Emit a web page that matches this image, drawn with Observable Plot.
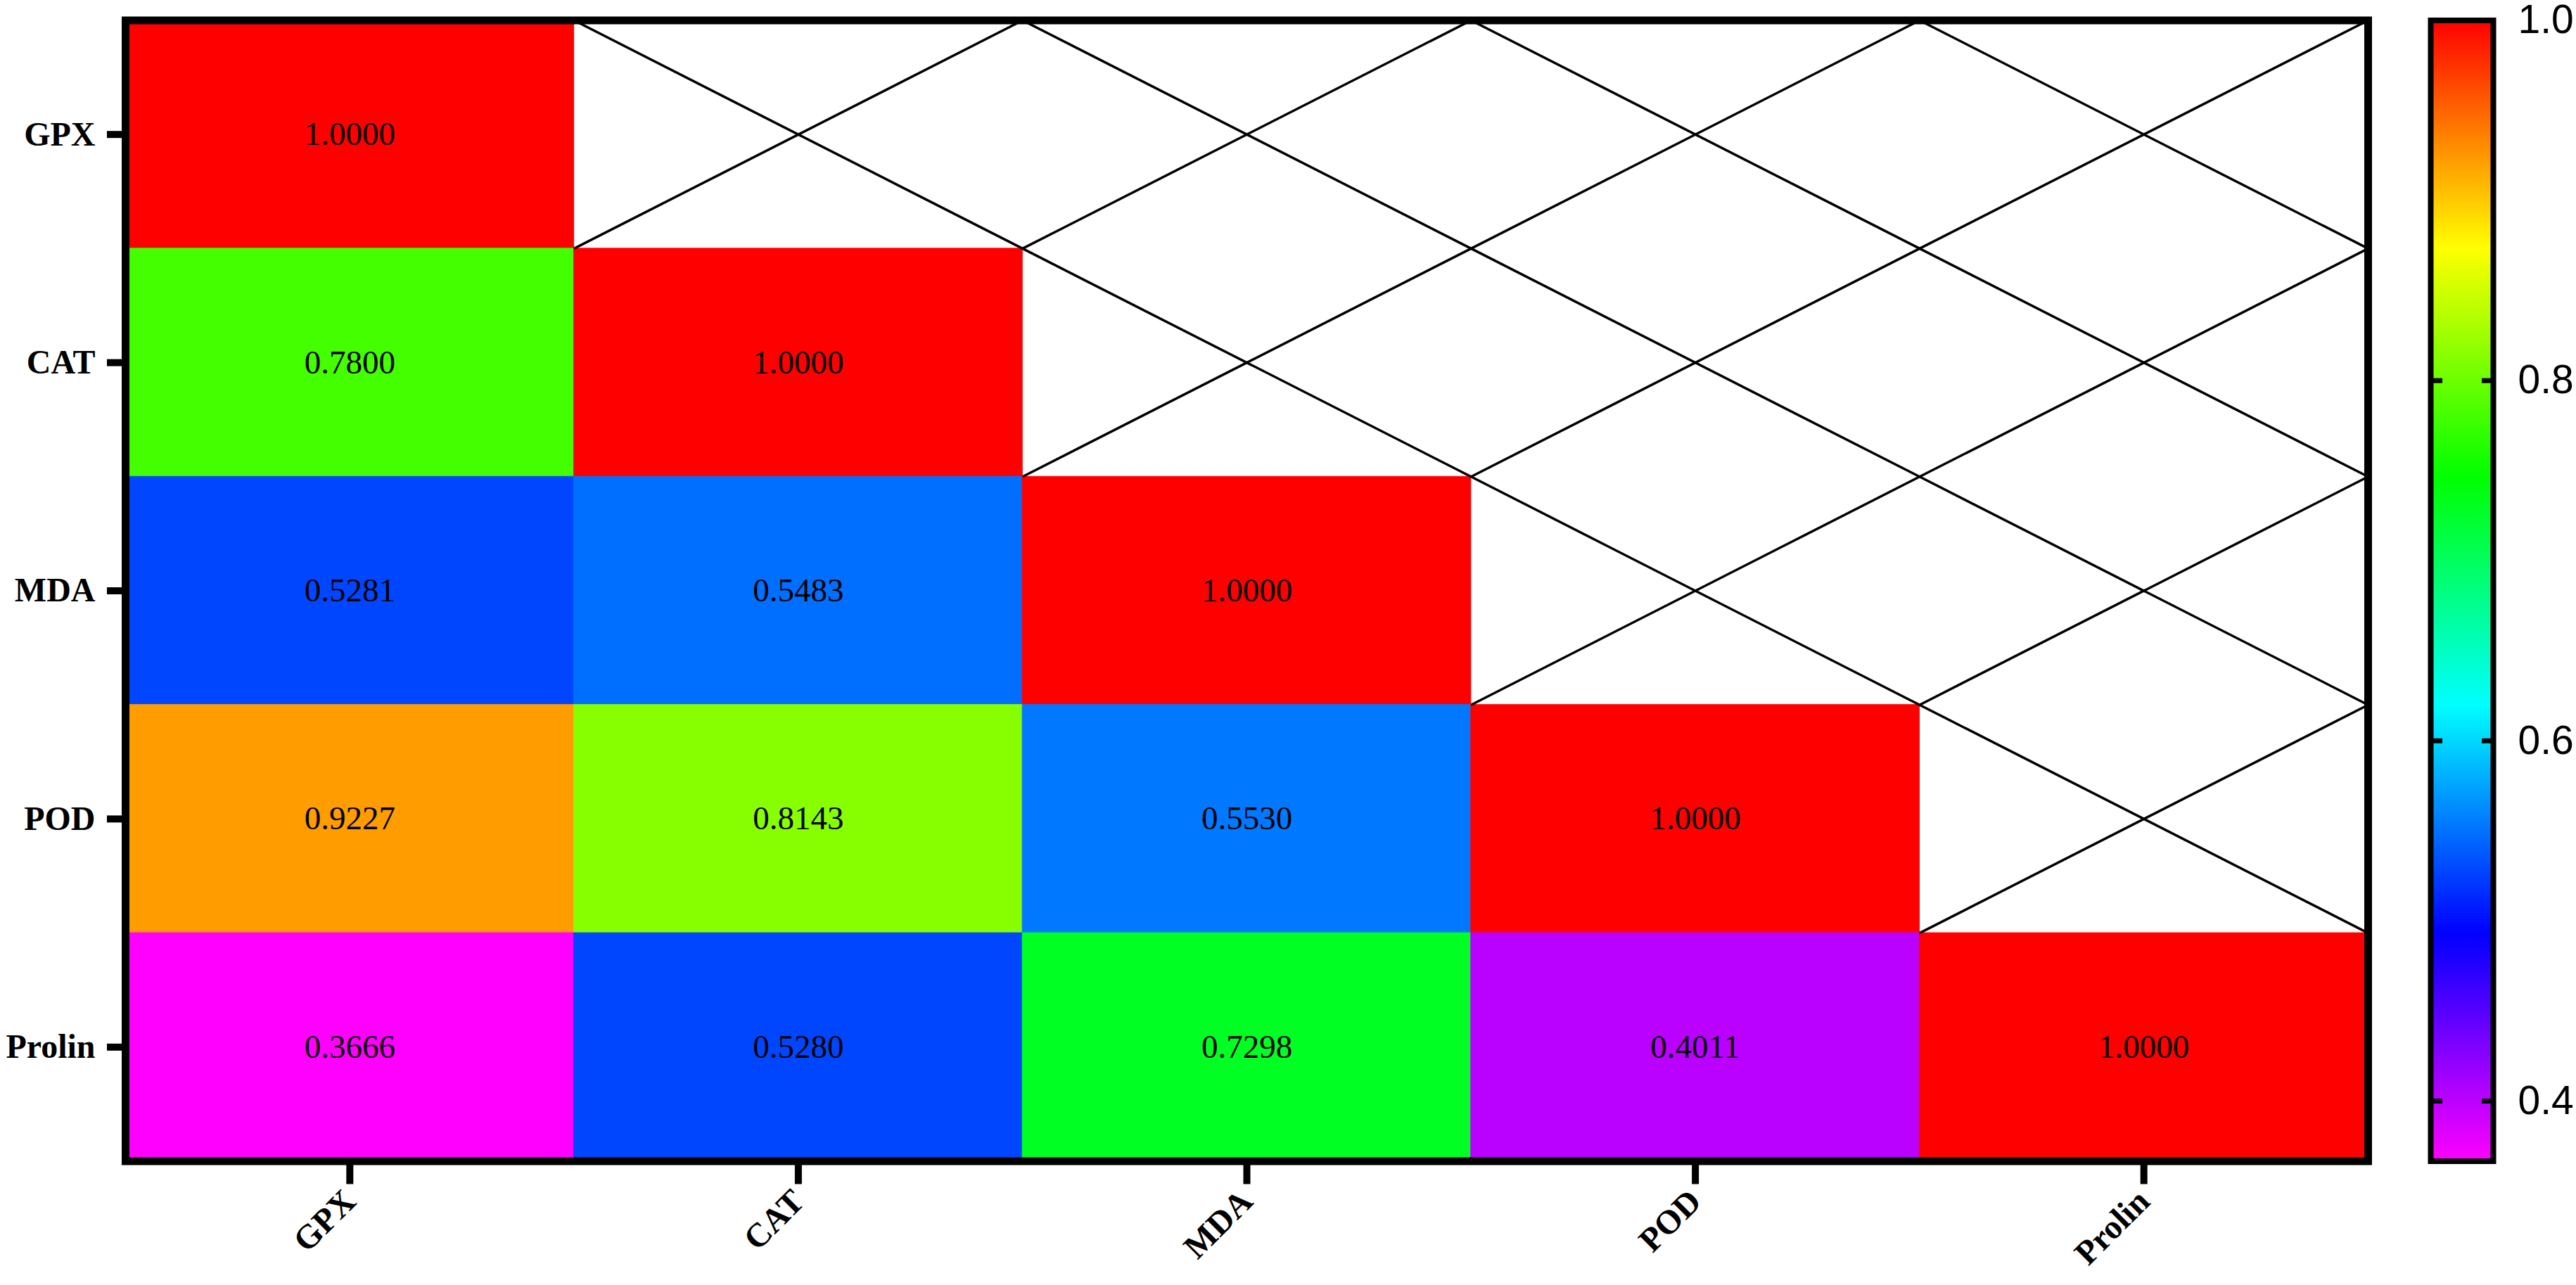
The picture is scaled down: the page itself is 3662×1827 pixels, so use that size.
<!DOCTYPE html>
<html><head><meta charset="utf-8">
<script src="https://cdn.jsdelivr.net/npm/d3@7"></script>
<script src="https://cdn.jsdelivr.net/npm/@observablehq/plot@0.6"></script>
<style>
html,body{margin:0;padding:0;background:#fff;}
#wrap{position:relative;width:3662px;height:1827px;background:#fff;}
#wrap > svg{position:absolute;top:0;}
</style></head><body><div id="wrap"></div>
<script>
// ---- data ----
const labels = ["GPX", "CAT", "MDA", "POD", "Prolin"];
const rowGPX = [1.0000];
const rowCAT = [0.7800, 1.0000];
const rowMDA = [0.5281, 0.5483, 1.0000];
const rowPOD = [0.9227, 0.8143, 0.5530, 1.0000];
const rowProlin = [0.3666, 0.5280, 0.7298, 0.4011, 1.0000];
const colorTicks = [0.4, 0.6, 0.8, 1.0];
const colorMin = 0.3666, colorMax = 1.0;
// ---- styles ----
const rampColors = ["#ff00ff", "#0000ff", "#00ffff", "#00ff00", "#ffff00", "#ff0000"];

const rows = [rowGPX, rowCAT, rowMDA, rowPOD, rowProlin];
const cells = [], empty = [];
rows.forEach((r, i) => labels.forEach((_, j) => {
  if (j < r.length) cells.push({row: i, col: j, v: r[j]});
  else empty.push({row: i, col: j});
}));

const colorScale = {
  type: "linear",
  domain: rampColors.map((_, k) => colorMin + (colorMax - colorMin) * k / (rampColors.length - 1)),
  range: rampColors,
  interpolate: "rgb"
};

const tickPos = labels.map((_, i) => i + 0.5);
const tickLab = d => labels[Math.floor(d)];
const serif = "'Liberation Serif','Times New Roman',Times,serif";

const main = Plot.plot({
  width: 3400, height: 1827,
  marginLeft: 178, marginRight: 34, marginTop: 28.5, marginBottom: 176.5,
  x: {domain: [0, labels.length]},
  y: {domain: [0, labels.length], reverse: true},
  color: colorScale,
  style: {background: "white", fontFamily: serif},
  marks: [
    Plot.rect(cells, {x1: d => d.col, x2: d => d.col + 1, y1: d => d.row, y2: d => d.row + 1, fill: "v", stroke: "v", strokeWidth: 1}),
    Plot.link(empty, {x1: d => d.col, y1: d => d.row, x2: d => d.col + 1, y2: d => d.row + 1, stroke: "black", strokeWidth: 3.5}),
    Plot.link(empty, {x1: d => d.col, y1: d => d.row + 1, x2: d => d.col + 1, y2: d => d.row, stroke: "black", strokeWidth: 3.5}),
    Plot.text(cells, {x: d => d.col + 0.5, y: d => d.row + 0.5, text: d => d.v.toFixed(4), fontSize: 47, fill: "black", fontWeight: "normal"}),
    Plot.axisY({ticks: tickPos, tickFormat: tickLab, tickSize: 26, tickPadding: 17, strokeWidth: 10, fontSize: 48, fontWeight: "bold", label: null, fill: "black"}),
    Plot.axisX({ticks: tickPos, tickFormat: tickLab, tickSize: 33, tickPadding: 16, tickRotate: -45, strokeWidth: 10, fontSize: 48, fontWeight: "bold", label: null, fill: "black"}),
    Plot.frame({stroke: "black", strokeWidth: 11})
  ]
});
main.style.left = "0px";

const nSteps = 400;
const step = (colorMax - colorMin) / nSteps;
const ramp = d3.range(nSteps).map(i => colorMin + i * step);

const bar = Plot.plot({
  width: 262, height: 1827,
  marginLeft: 55, marginRight: 118, marginTop: 28.5, marginBottom: 176.5,
  x: {domain: [0, 1], axis: null},
  y: {domain: [colorMin, colorMax]},
  color: colorScale,
  style: {background: "transparent", fontFamily: "'Liberation Sans',Arial,Helvetica,sans-serif"},
  marks: [
    Plot.rect(ramp, {x1: 0, x2: 1, y1: d => d, y2: d => d + step, fill: d => d + step / 2, stroke: d => d + step / 2, strokeWidth: 1}),
    Plot.axisY({anchor: "left", ticks: colorTicks, tickSize: -17, tickFormat: () => "", strokeWidth: 7, label: null}),
    Plot.axisY({anchor: "right", ticks: colorTicks, tickSize: -17, tickFormat: () => "", strokeWidth: 7, label: null}),
    Plot.axisY({anchor: "right", ticks: colorTicks, tickSize: 0, tickPadding: 35, tickFormat: d3.format(".1f"), fontSize: 57, label: null, fill: "black"}),
    Plot.frame({stroke: "black", strokeWidth: 8})
  ]
});
bar.style.left = "3400px";

const wrap = document.getElementById("wrap");
wrap.appendChild(main);
wrap.appendChild(bar);
</script>
</body></html>
